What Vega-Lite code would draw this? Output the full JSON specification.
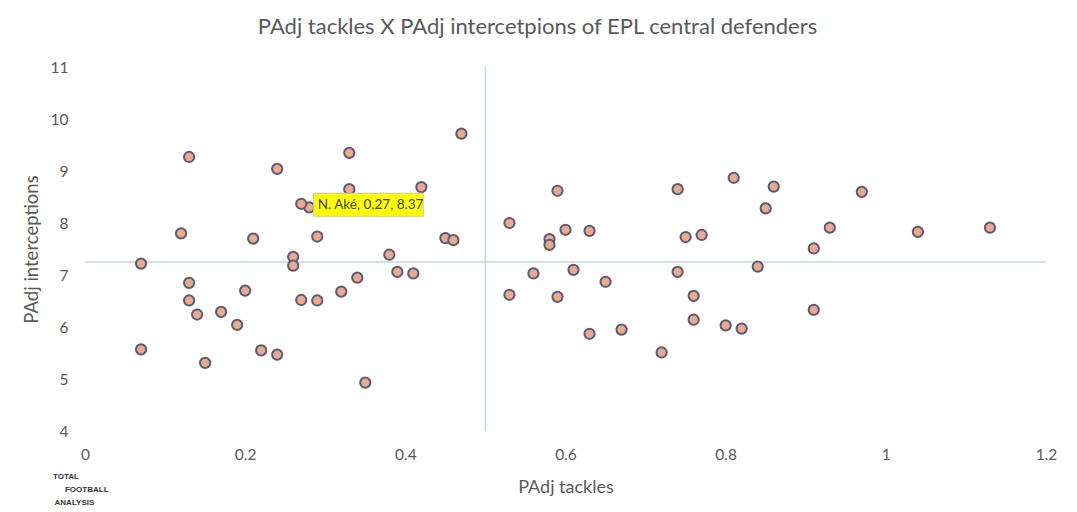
{
  "$schema": "https://vega.github.io/schema/vega-lite/v6.json",
  "autosize": "none",
  "width": 961,
  "height": 364,
  "padding": {"left": 85, "top": 67, "right": 31, "bottom": 81},
  "background": "white",
  "config": {
    "view": {"stroke": null},
    "font": "Lato",
    "axis": {"labelFont": "Lato", "titleFont": "Lato", "labelColor": "#595959", "titleColor": "#595959", "titleFontWeight": "normal", "grid": false, "domain": false, "ticks": false, "labelFlush": false}
  },
  "title": {
    "text": "PAdj tackles X PAdj intercetpions of EPL central defenders",
    "font": "Lato",
    "fontSize": 22,
    "fontWeight": "normal",
    "color": "#595959",
    "anchor": "middle",
    "frame": "group",
    "dx": -28,
    "offset": 21
  },
  "datasets": {
    "players": [
      {"player": "", "tackles": 0.13, "interceptions": 9.27},
      {"player": "", "tackles": 0.24, "interceptions": 9.04},
      {"player": "", "tackles": 0.33, "interceptions": 9.35},
      {"player": "", "tackles": 0.47, "interceptions": 9.72},
      {"player": "", "tackles": 0.33, "interceptions": 8.65},
      {"player": "", "tackles": 0.42, "interceptions": 8.69},
      {"player": "", "tackles": 0.28, "interceptions": 8.30},
      {"player": "N. Aké", "tackles": 0.27, "interceptions": 8.37},
      {"player": "", "tackles": 0.12, "interceptions": 7.80},
      {"player": "", "tackles": 0.21, "interceptions": 7.70},
      {"player": "", "tackles": 0.29, "interceptions": 7.74},
      {"player": "", "tackles": 0.45, "interceptions": 7.71},
      {"player": "", "tackles": 0.46, "interceptions": 7.67},
      {"player": "", "tackles": 0.07, "interceptions": 7.22},
      {"player": "", "tackles": 0.26, "interceptions": 7.35},
      {"player": "", "tackles": 0.26, "interceptions": 7.18},
      {"player": "", "tackles": 0.38, "interceptions": 7.39},
      {"player": "", "tackles": 0.13, "interceptions": 6.85},
      {"player": "", "tackles": 0.13, "interceptions": 6.51},
      {"player": "", "tackles": 0.14, "interceptions": 6.24},
      {"player": "", "tackles": 0.17, "interceptions": 6.29},
      {"player": "", "tackles": 0.19, "interceptions": 6.04},
      {"player": "", "tackles": 0.20, "interceptions": 6.70},
      {"player": "", "tackles": 0.27, "interceptions": 6.52},
      {"player": "", "tackles": 0.29, "interceptions": 6.51},
      {"player": "", "tackles": 0.32, "interceptions": 6.68},
      {"player": "", "tackles": 0.34, "interceptions": 6.95},
      {"player": "", "tackles": 0.39, "interceptions": 7.06},
      {"player": "", "tackles": 0.41, "interceptions": 7.03},
      {"player": "", "tackles": 0.07, "interceptions": 5.57},
      {"player": "", "tackles": 0.15, "interceptions": 5.31},
      {"player": "", "tackles": 0.22, "interceptions": 5.55},
      {"player": "", "tackles": 0.24, "interceptions": 5.47},
      {"player": "", "tackles": 0.35, "interceptions": 4.93},
      {"player": "", "tackles": 0.53, "interceptions": 8.00},
      {"player": "", "tackles": 0.59, "interceptions": 8.62},
      {"player": "", "tackles": 0.58, "interceptions": 7.69},
      {"player": "", "tackles": 0.58, "interceptions": 7.58},
      {"player": "", "tackles": 0.60, "interceptions": 7.87},
      {"player": "", "tackles": 0.63, "interceptions": 7.85},
      {"player": "", "tackles": 0.74, "interceptions": 8.65},
      {"player": "", "tackles": 0.75, "interceptions": 7.73},
      {"player": "", "tackles": 0.77, "interceptions": 7.77},
      {"player": "", "tackles": 0.81, "interceptions": 8.87},
      {"player": "", "tackles": 0.85, "interceptions": 8.28},
      {"player": "", "tackles": 0.86, "interceptions": 8.70},
      {"player": "", "tackles": 0.91, "interceptions": 7.51},
      {"player": "", "tackles": 0.93, "interceptions": 7.91},
      {"player": "", "tackles": 0.97, "interceptions": 8.60},
      {"player": "", "tackles": 1.04, "interceptions": 7.83},
      {"player": "", "tackles": 1.13, "interceptions": 7.91},
      {"player": "", "tackles": 0.56, "interceptions": 7.03},
      {"player": "", "tackles": 0.61, "interceptions": 7.10},
      {"player": "", "tackles": 0.65, "interceptions": 6.87},
      {"player": "", "tackles": 0.74, "interceptions": 7.06},
      {"player": "", "tackles": 0.84, "interceptions": 7.16},
      {"player": "", "tackles": 0.53, "interceptions": 6.62},
      {"player": "", "tackles": 0.59, "interceptions": 6.58},
      {"player": "", "tackles": 0.76, "interceptions": 6.60},
      {"player": "", "tackles": 0.91, "interceptions": 6.33},
      {"player": "", "tackles": 0.63, "interceptions": 5.87},
      {"player": "", "tackles": 0.67, "interceptions": 5.95},
      {"player": "", "tackles": 0.76, "interceptions": 6.14},
      {"player": "", "tackles": 0.80, "interceptions": 6.03},
      {"player": "", "tackles": 0.82, "interceptions": 5.97},
      {"player": "", "tackles": 0.72, "interceptions": 5.51}
    ],
    "logo": [
      {"line": "TOTAL", "tackles": -0.04, "interceptions": 3.12},
      {"line": "FOOTBALL", "tackles": -0.025, "interceptions": 2.86},
      {"line": "ANALYSIS", "tackles": -0.038, "interceptions": 2.61}
    ],
    "quadrants": [
      {"tackles": 0.5, "interceptions": 7.25, "xmin": 0, "xmax": 1.2, "ymin": 4, "ymax": 11}
    ]
  },
  "layer": [
    {
      "data": {"name": "quadrants"},
      "mark": {"type": "rule", "color": "#C9D5E1", "strokeWidth": 1.5},
      "encoding": {
        "x": {"field": "tackles", "type": "quantitative", "scale": {"domain": [0, 1.2], "nice": false, "zero": false},
          "axis": {"values": [0, 0.2, 0.4, 0.6, 0.8, 1, 1.2], "format": ".1~f", "labelFontSize": 15.5, "labelPadding": 16, "title": "PAdj tackles", "titleFontSize": 18, "titlePadding": 16}},
        "y": {"field": "ymin", "type": "quantitative", "scale": {"domain": [4, 11], "nice": false, "zero": false},
          "axis": {"values": [4, 5, 6, 7, 8, 9, 10, 11], "format": "d", "labelFontSize": 15.5, "labelPadding": 17, "title": "PAdj interceptions", "titleFontSize": 18.5, "titlePadding": 9}},
        "y2": {"field": "ymax"}
      }
    },
    {
      "data": {"name": "quadrants"},
      "mark": {"type": "rule", "color": "#C9D5E1", "strokeWidth": 1.5},
      "encoding": {
        "y": {"field": "interceptions", "type": "quantitative"},
        "x": {"field": "xmin", "type": "quantitative"},
        "x2": {"field": "xmax"}
      }
    },
    {
      "data": {"name": "players"},
      "mark": {"type": "point", "filled": true, "size": 105, "fill": "#EBAA8C", "stroke": "#5A5B78", "strokeWidth": 2, "opacity": 1},
      "encoding": {
        "x": {"field": "tackles", "type": "quantitative"},
        "y": {"field": "interceptions", "type": "quantitative"}
      }
    },
    {
      "data": {"name": "players"},
      "transform": [{"filter": "datum.player === 'N. Aké'"}],
      "mark": {"type": "rect", "fill": "#FFFF00", "stroke": "#C8C89A", "strokeWidth": 1, "xOffset": 12.5, "x2Offset": 122, "yOffset": -10.5, "y2Offset": 12.5},
      "encoding": {
        "x": {"field": "tackles", "type": "quantitative"},
        "x2": {"field": "tackles"},
        "y": {"field": "interceptions", "type": "quantitative"},
        "y2": {"field": "interceptions"}
      }
    },
    {
      "data": {"name": "players"},
      "transform": [{"filter": "datum.player === 'N. Aké'"}],
      "mark": {"type": "text", "align": "left", "baseline": "middle", "dx": 16.5, "dy": 1.5, "fontSize": 13.5, "font": "Lato", "color": "#404040"},
      "encoding": {
        "x": {"field": "tackles", "type": "quantitative"},
        "y": {"field": "interceptions", "type": "quantitative"},
        "text": {"value": "N. Aké, 0.27, 8.37"}
      }
    },
    {
      "data": {"name": "logo"},
      "mark": {"type": "text", "align": "left", "baseline": "middle", "fontSize": 8, "font": "Liberation Sans", "fontWeight": "bold", "color": "#333333", "clip": false},
      "encoding": {
        "x": {"field": "tackles", "type": "quantitative"},
        "y": {"field": "interceptions", "type": "quantitative"},
        "text": {"field": "line"}
      }
    }
  ]
}
